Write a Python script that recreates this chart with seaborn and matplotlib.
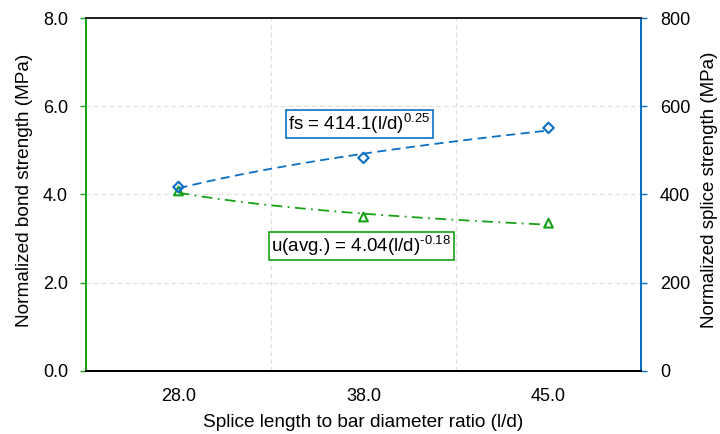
import numpy as np
import pandas as pd
import matplotlib
matplotlib.use("Agg")
import matplotlib.pyplot as plt
import seaborn as sns

# data
ratio_labels = ["28.0", "38.0", "45.0"]
bond_strength = [4.08, 3.49, 3.35]      # MPa, left axis
splice_strength = [417, 483, 551]       # MPa, right axis

# Excel power trendlines (x = category index 1..3)
fs_coef, fs_exp = 414.1, 0.25
u_coef, u_exp = 4.04, -0.18

blue = "#0A70C4"
green = "#17A117"

sns.set_style("white")
plt.rcParams["font.family"] = ["Liberation Sans", "DejaVu Sans"]
plt.rcParams["mathtext.default"] = "regular"
plt.rcParams["axes.unicode_minus"] = False
plt.rcParams["text.color"] = "black"
plt.rcParams["axes.labelcolor"] = "black"
plt.rcParams["xtick.labelcolor"] = "black"
plt.rcParams["ytick.labelcolor"] = "black"

pos = np.arange(1, len(ratio_labels) + 1)
df = pd.DataFrame({"pos": pos, "bond": bond_strength, "splice": splice_strength})

xx = np.linspace(1, 3, 60)
trend = pd.DataFrame({"x": xx, "fs": fs_coef * xx ** fs_exp, "u": u_coef * xx ** u_exp})

fig = plt.figure(figsize=(7.2, 4.34), dpi=100)
ax = fig.add_axes([0.1194, 0.1452, 0.7709, 0.8133])
ax2 = ax.twinx()

# left axis: bond strength
sns.lineplot(data=trend, x="x", y="u", ax=ax, color=green, lw=1.3, linestyle=(0, (6, 3, 1, 3)))
sns.scatterplot(data=df, x="pos", y="bond", ax=ax, marker="^", s=40,
                facecolor="none", edgecolor=green, linewidth=1.5, zorder=5)

# right axis: splice strength
sns.lineplot(data=trend, x="x", y="fs", ax=ax2, color=blue, lw=1.3, linestyle=(0, (5, 3)))
sns.scatterplot(data=df, x="pos", y="splice", ax=ax2, marker="D", s=28,
                facecolor="none", edgecolor=blue, linewidth=1.5, zorder=5)

ax.set_xlim(0.5, 3.5)
ax.set_ylim(0, 8)
ax2.set_ylim(0, 800)
ax.set_yticks([0, 2, 4, 6, 8])
ax.set_yticklabels([f"{v:.1f}" for v in [0, 2, 4, 6, 8]])
ax2.set_yticks([0, 200, 400, 600, 800])

# tick marks between categories, labels at the centres
ax.set_xticks([0.5, 1.5, 2.5, 3.5])
ax.set_xticklabels([])
ax.set_xticks(pos, minor=True)
ax.set_xticklabels(ratio_labels, minor=True)
ax.tick_params(axis="x", which="minor", length=0, pad=12, labelsize=13)
ax.tick_params(axis="x", which="major", direction="out", length=4, color="black", width=1)

ax.grid(True, which="major", color="#dddddd", linestyle=(0, (4, 3)), lw=0.8)

ax.tick_params(axis="y", direction="out", length=4, pad=9, color=green, width=1, labelsize=13, left=True)
ax2.tick_params(axis="y", direction="out", length=4, pad=9.5, color=blue, width=1, labelsize=13, right=True)

ax.set_xlabel("Splice length to bar diameter ratio (l/d)", fontsize=13.7)
ax.set_ylabel("Normalized bond strength (MPa)", fontsize=13.7)
ax2.set_ylabel("Normalized splice strength (MPa)", fontsize=13.5)
ax.xaxis.set_label_coords(0.5, -0.122)
ax.yaxis.set_label_coords(-0.0955, 0.513)
ax2.yaxis.set_label_coords(1.108, 0.513)

for a in (ax, ax2):
    a.spines["left"].set_color(green)
    a.spines["right"].set_color(blue)
    a.spines["top"].set_color("#222222")
    a.spines["bottom"].set_color("black")
    for s in a.spines.values():
        s.set_linewidth(1.4)
        s.set_visible(True)

ax.text(1.978, 5.60, "fs = 414.1(l/d)$^{0.25}$", fontsize=13.5, ha="center", va="center",
        bbox=dict(boxstyle="square,pad=0.12", facecolor="white", edgecolor=blue, lw=1.2), zorder=6)
ax.text(1.989, 2.83, "u(avg.) = 4.04(l/d)$^{\u20100.18}$", fontsize=13.5, ha="center", va="center",
        bbox=dict(boxstyle="square,pad=0.12", facecolor="white", edgecolor=green, lw=1.2), zorder=6)

fig.savefig("out.png", dpi=100)
